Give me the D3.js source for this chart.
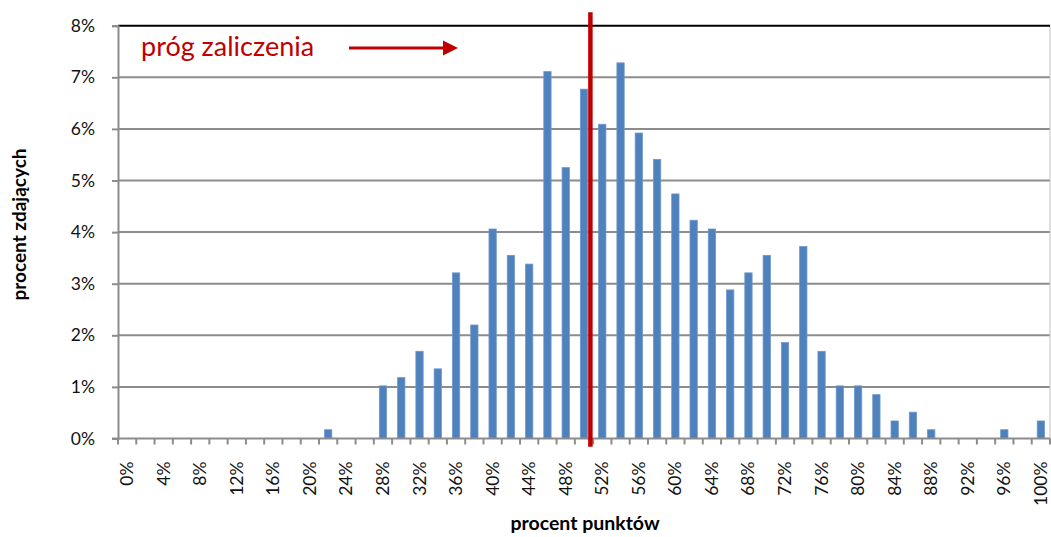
<!DOCTYPE html>
<html>
<head>
<meta charset="utf-8">
<script src="https://cdn.jsdelivr.net/npm/d3@7"></script>
<style>
  html, body { margin: 0; padding: 0; background: #fff; }
  svg { display: block; }
  text { font-family: Lato, "Open Sans", sans-serif; }
</style>
</head>
<body>
<svg id="chart" width="1051" height="537"></svg>
<script>
// ---- data ----
const categories = ["0%","2%","4%","6%","8%","10%","12%","14%","16%","18%","20%","22%","24%","26%","28%","30%","32%","34%","36%","38%","40%","42%","44%","46%","48%","50%","52%","54%","56%","58%","60%","62%","64%","66%","68%","70%","72%","74%","76%","78%","80%","82%","84%","86%","88%","90%","92%","94%","96%","98%","100%"];
const values = [0,0,0,0,0,0,0,0,0,0,0,0.17,0,0,1.02,1.18,1.69,1.35,3.21,2.20,4.06,3.55,3.38,7.11,5.25,6.77,6.09,7.28,5.92,5.41,4.74,4.23,4.06,2.88,3.21,3.55,1.86,3.72,1.69,1.02,1.02,0.85,0.34,0.51,0.17,0,0,0,0.17,0,0.34];
const yTicks = [0,1,2,3,4,5,6,7,8];
const xLabelEvery = 2;
const threshold = 50.7;           // próg zaliczenia, in % of points
const thresholdLabel = "próg zaliczenia";
const xTitle = "procent punktów";
const yTitle = "procent zdających";

// ---- layout ----
const svg = d3.select("#chart");
const L = 118, R = 1050, T = 25.7, B = 438.5;

const x = d3.scaleBand().domain(categories).range([L, R]).paddingInner(0.6).paddingOuter(0.3);
const xLin = d3.scaleLinear().domain([-1, 101]).range([L, R]);
const y = d3.scaleLinear().domain([0, 8]).range([B, T]);
const step = x.step();

// gridlines
svg.append("g").selectAll("line").data(yTicks.filter(d => d > 0 && d < 8)).join("line")
  .attr("x1", L).attr("x2", R).attr("y1", d => y(d)).attr("y2", d => y(d))
  .attr("stroke", "#8c8c8c").attr("stroke-width", 2);

// right border
svg.append("line").attr("x1", R).attr("x2", R).attr("y1", T).attr("y2", B)
  .attr("stroke", "#c0c0c0").attr("stroke-width", 1);

// bars
svg.append("g").selectAll("rect").data(values.map((v, i) => ({c: categories[i], v}))).join("rect")
  .filter(d => d.v > 0)
  .attr("x", d => x(d.c)).attr("width", x.bandwidth())
  .attr("y", d => y(d.v)).attr("height", d => B - y(d.v))
  .attr("fill", "#4f81bd").attr("stroke", "#6f98cc").attr("stroke-width", 0.8);

// top border (black)
svg.append("line").attr("x1", L).attr("x2", R).attr("y1", T).attr("y2", T)
  .attr("stroke", "#000").attr("stroke-width", 2);

// y axis
const yAxis = d3.axisLeft(y).tickValues(yTicks).tickFormat(d => d + "%").tickSize(6).tickPadding(17);
const gy = svg.append("g").attr("transform", `translate(${L},0)`).call(yAxis);
gy.select(".domain").attr("stroke", "#8c8c8c").attr("stroke-width", 2);
gy.selectAll(".tick line").attr("stroke", "#8c8c8c").attr("stroke-width", 2);
gy.selectAll(".tick text").attr("font-size", "17.5px").attr("fill", "#111").attr("font-family", "Lato, sans-serif");

// x axis line + band boundary ticks
const gx = svg.append("g");
gx.append("line").attr("x1", L - 6).attr("x2", R).attr("y1", B).attr("y2", B)
  .attr("stroke", "#8c8c8c").attr("stroke-width", 2);
gx.selectAll("line.tk").data(d3.range(categories.length + 1)).join("line").attr("class", "tk")
  .attr("x1", i => L + i * step).attr("x2", i => L + i * step)
  .attr("y1", B).attr("y2", B + 6)
  .attr("stroke", "#8c8c8c").attr("stroke-width", 2);
gx.selectAll("text").data(categories.filter((c, i) => i % xLabelEvery === 0)).join("text")
  .attr("transform", c => `translate(${x(c) + x.bandwidth() / 2 + 6},${B + 23}) rotate(-90)`)
  .attr("text-anchor", "end")
  .attr("font-size", "17.5px").attr("fill", "#111")
  .text(c => c);

// threshold line
svg.append("line").attr("x1", xLin(threshold)).attr("x2", xLin(threshold))
  .attr("y1", 12.3).attr("y2", 446.7)
  .attr("stroke", "#c00000").attr("stroke-width", 4.5);

// threshold label and arrow
svg.append("text").attr("x", 141).attr("y", 56).attr("font-size", "27px").attr("fill", "#c00000")
  .text(thresholdLabel);
svg.append("line").attr("x1", 349).attr("x2", 445).attr("y1", 48).attr("y2", 48)
  .attr("stroke", "#c00000").attr("stroke-width", 3);
svg.append("path").attr("d", "M443,40.5 L458,48 L443,55.5 Z").attr("fill", "#c00000");

// axis titles
svg.append("text").attr("x", 585).attr("y", 530).attr("text-anchor", "middle")
  .attr("font-size", "19.5px").attr("font-weight", "bold").attr("fill", "#000").text(xTitle);
svg.append("text").attr("transform", "translate(26,224.5) rotate(-90)").attr("text-anchor", "middle")
  .attr("font-size", "19px").attr("font-weight", "bold").attr("fill", "#000").text(yTitle);
</script>
</body>
</html>
